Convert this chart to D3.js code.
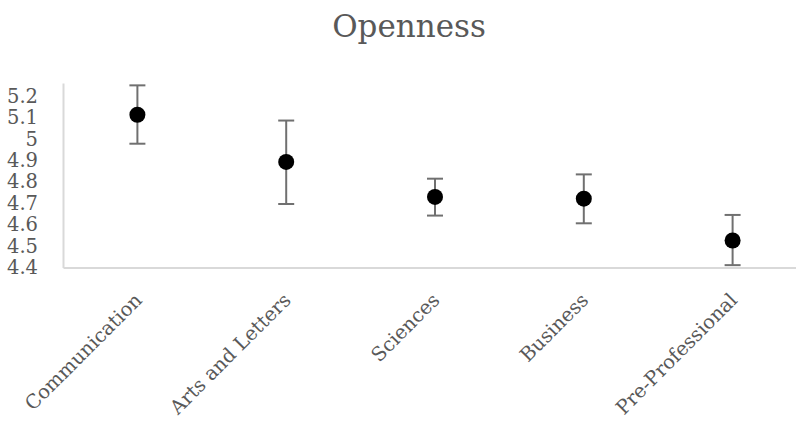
<!DOCTYPE html>
<html>
<head>
<meta charset="utf-8">
<script src="https://cdn.jsdelivr.net/npm/d3@7"></script>
<style>
  body { margin: 0; background: white; }
  svg { display: block; font-family: "DejaVu Serif", serif; }
</style>
</head>
<body>
<svg id="chart"></svg>
<script>
var w = 796; // Width of the SVG element
var h = 423; // Height of the SVG element

// Data
var majors = ["Communication", "Arts and Letters", "Sciences", "Business", "Pre-Professional"];
var means = [5.112, 4.892, 4.729, 4.721, 4.526];
var upper = [5.249, 5.085, 4.814, 4.834, 4.645];
var lower = [4.977, 4.696, 4.642, 4.606, 4.411];
var yTicks = [4.4, 4.5, 4.6, 4.7, 4.8, 4.9, 5, 5.1, 5.2];

var data = majors.map(function(m, i) {
  return { major: m, mean: means[i], hi: upper[i], lo: lower[i] };
});

var margin = { top: 83, right: 0, bottom: 155, left: 63 };

var svg = d3.select("#chart")
  .attr("width", w)
  .attr("height", h);

// Title
svg.append("text")
  .attr("x", 409)
  .attr("y", 37)
  .attr("text-anchor", "middle")
  .attr("fill", "#595959")
  .style("font-size", "31px")
  .text("Openness");

// Scales
var xScale = d3.scaleBand()
  .domain(majors)
  .range([margin.left, margin.left + 5 * 148.8]);

var yScale = d3.scaleLinear()
  .domain([4.4, 5.26])
  .range([h - margin.bottom - 0.5, margin.top]);

// y axis
var yAxis = svg.append("g")
  .attr("transform", "translate(" + margin.left + ",0)")
  .call(d3.axisLeft(yScale).tickValues(yTicks).tickSize(0).tickPadding(25).tickFormat(d3.format("")));
yAxis.select(".domain").attr("stroke", "#d9d9d9").attr("stroke-width", 2);
yAxis.selectAll("text")
  .attr("fill", "#595959")
  .style("font-size", "19.5px")
  .style("font-family", "DejaVu Serif, serif");

// x axis
var xAxis = svg.append("g")
  .attr("transform", "translate(0," + yScale(4.4) + ")")
  .call(d3.axisBottom(xScale).tickSize(0).tickPadding(0));
xAxis.select(".domain").attr("stroke", "#d9d9d9").attr("stroke-width", 2);
xAxis.selectAll("text")
  .attr("fill", "#595959")
  .style("font-size", "19.5px")
  .style("font-family", "DejaVu Serif, serif")
  .style("text-anchor", "end")
  .attr("dy", "0.35em")
  .attr("transform", "translate(1,29) rotate(-45)");

// Error bars
var bars = svg.selectAll(".err")
  .data(data)
  .enter()
  .append("g")
  .attr("class", "err")
  .attr("stroke", "#707070")
  .attr("stroke-width", 2);

bars.append("line")
  .attr("x1", function(d) { return xScale(d.major) + xScale.bandwidth() / 2; })
  .attr("x2", function(d) { return xScale(d.major) + xScale.bandwidth() / 2; })
  .attr("y1", function(d) { return yScale(d.hi); })
  .attr("y2", function(d) { return yScale(d.lo); });

bars.selectAll(".cap")
  .data(function(d) { return [[d.major, d.hi], [d.major, d.lo]]; })
  .enter()
  .append("line")
  .attr("class", "cap")
  .attr("x1", function(d) { return xScale(d[0]) + xScale.bandwidth() / 2 - 8; })
  .attr("x2", function(d) { return xScale(d[0]) + xScale.bandwidth() / 2 + 8; })
  .attr("y1", function(d) { return yScale(d[1]); })
  .attr("y2", function(d) { return yScale(d[1]); });

// Mean dots
svg.selectAll(".dot")
  .data(data)
  .enter()
  .append("circle")
  .attr("class", "dot")
  .attr("cx", function(d) { return xScale(d.major) + xScale.bandwidth() / 2; })
  .attr("cy", function(d) { return yScale(d.mean); })
  .attr("r", 8)
  .attr("fill", "black");
</script>
</body>
</html>
